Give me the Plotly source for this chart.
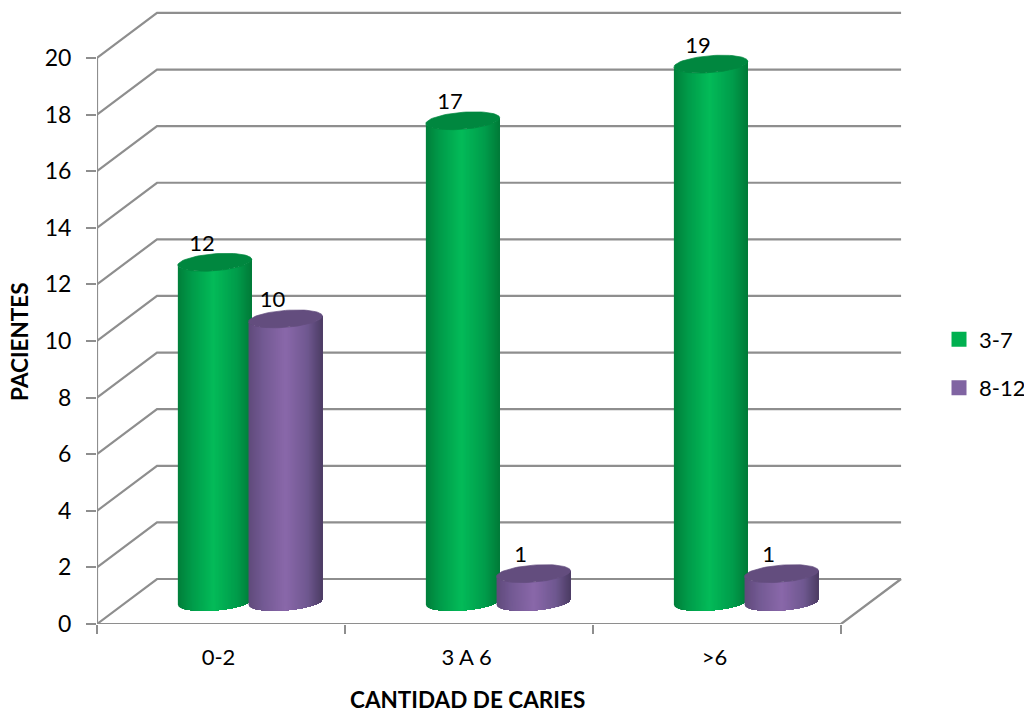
import numpy as np
import plotly.graph_objects as go

# Chart content
categories = ["0-2", "3 A 6", ">6"]
series_names = ["3-7", "8-12"]
values_3_7 = [12, 17, 19]
values_8_12 = [10, 1, 1]
y_ticks = list(range(0, 21, 2))

# Pseudo-3D geometry, in axis units
DEPTH_X = 0.242
DEPTH_Y = 1.59
FLOOR_Y = 0.78
CYL_CENTER = [0.475, 0.76]
CYL_RX = 0.149
CYL_RY = 0.30
CYL_TILT = 0.10
N_STRIPS = 74
XMAX = 3.278
YMAX = 21.87

GRID = "#8e8e8e"
FONT = "Lato, 'Open Sans', sans-serif"
# Side shading stops (left edge, light band, right edge) and the darker lid colour
SHADES = [
    {"stops": [(0.0, "#007f3a"), (0.18, "#009a49"), (0.48, "#04bb59"), (0.8, "#009c4b"), (1.0, "#007a38")],
     "lid": "#00873f", "key": "#00b050"},
    {"stops": [(0.0, "#604a7b"), (0.2, "#735a93"), (0.5, "#8a68aa"), (0.8, "#6f5890"), (1.0, "#4c3c64")],
     "lid": "#634d7e", "key": "#8064a2"},
]


def shade(stops, pos):
    for (p0, c0), (p1, c1) in zip(stops, stops[1:]):
        if pos <= p1:
            f = (pos - p0) / (p1 - p0)
            a = [int(c0[i:i + 2], 16) for i in (1, 3, 5)]
            b = [int(c1[i:i + 2], 16) for i in (1, 3, 5)]
            return "rgb(%d,%d,%d)" % tuple(round(u + (v - u) * f) for u, v in zip(a, b))
    return stops[-1][1]


def add_line(fig, xs, ys):
    fig.add_trace(go.Scatter(x=xs, y=ys, mode="lines", line=dict(color=GRID, width=2.2),
                             hoverinfo="skip", showlegend=False))


def front_arc(u):
    return -CYL_RY * np.sqrt(np.clip(1 - u ** 2, 0, 1)) + CYL_TILT * u


def add_cylinder(fig, cx, value, palette):
    # Each band runs through to the right edge and the next one paints over it, which avoids seams
    edges = np.linspace(-1, 1, N_STRIPS + 1)
    for k in range(N_STRIPS):
        u = edges[k:]
        xs = cx + CYL_RX * u
        arc = front_arc(u)
        px = np.concatenate([xs, xs[::-1], xs[:1]])
        py = np.concatenate([FLOOR_Y + arc, (FLOOR_Y + value + arc)[::-1], [FLOOR_Y + arc[0]]])
        color = shade(palette["stops"], (k + 0.5) / N_STRIPS)
        fig.add_trace(go.Scatter(x=px, y=py, mode="none", fill="toself", fillcolor=color,
                                 hoverinfo="skip", showlegend=False))
    t = np.linspace(0, 2 * np.pi, 73)
    fig.add_trace(go.Scatter(
        x=cx + CYL_RX * np.cos(t),
        y=FLOOR_Y + value + CYL_RY * np.sin(t) + CYL_TILT * np.cos(t),
        mode="lines", fill="toself", fillcolor=palette["lid"],
        line=dict(color=palette["lid"], width=0.7), hoverinfo="skip", showlegend=False))


fig = go.Figure()

# Walls and floor
for v in y_ticks:
    add_line(fig, [0, DEPTH_X, 3 + DEPTH_X], [v, v + DEPTH_Y, v + DEPTH_Y])
add_line(fig, [0, 0], [0, y_ticks[-1]])
add_line(fig, [0, 3, 3 + DEPTH_X], [0, 0, DEPTH_Y])

# Cylinders, the second series painted over the first within each group
for i in range(len(categories)):
    for s, vals in enumerate([values_3_7, values_8_12]):
        add_cylinder(fig, i + CYL_CENTER[s], vals[i], SHADES[s])

# Value labels above each lid
for s, vals in enumerate([values_3_7, values_8_12]):
    fig.add_trace(go.Scatter(
        x=[i + CYL_CENTER[s] - 0.052 for i in range(len(categories))],
        y=[v + FLOOR_Y + 0.6 for v in vals],
        mode="text", text=[str(v) for v in vals],
        textfont=dict(family=FONT, size=22, color="#000000"),
        hoverinfo="skip", showlegend=False))

# Legend keys
for s, name in enumerate(series_names):
    fig.add_trace(go.Scatter(x=[None], y=[None], mode="markers", name=name,
                             legendgroup=name,
                             marker=dict(symbol="square", size=15, color=SHADES[s]["key"])))

fig.update_layout(
    width=1024, height=712,
    margin=dict(l=97, r=114, t=5, b=88, autoexpand=False),
    paper_bgcolor="white", plot_bgcolor="white",
    font=dict(family=FONT, size=23, color="#000000"),
    xaxis=dict(range=[0, XMAX], showgrid=False, zeroline=False, showline=False, automargin=False,
               tickmode="array", tickvals=[0.49, 1.49, 2.49], ticktext=categories, ticks="",
               tickfont=dict(size=22), ticklabelstandoff=18,
               minor=dict(tickmode="array", tickvals=[0, 1, 2, 3], ticks="outside",
                          ticklen=9, tickwidth=2, tickcolor=GRID, showgrid=False)),
    yaxis=dict(range=[0, YMAX], showgrid=False, zeroline=False, showline=False, automargin=False,
               tickmode="array", tickvals=y_ticks, ticks="outside",
               ticklen=10, tickwidth=2, tickcolor=GRID, ticklabelstandoff=10),
    legend=dict(xref="container", yref="container", x=0.917, y=0.489, xanchor="left", yanchor="middle",
                tracegroupgap=17, itemwidth=30, font=dict(family=FONT, size=22),
                bgcolor="rgba(0,0,0,0)"),
    annotations=[
        dict(text="<b>PACIENTES</b>", xref="paper", yref="paper", textangle=-90, showarrow=False,
             x=-0.0945, y=0.456, xanchor="center", yanchor="middle", font=dict(family=FONT, size=22.5)),
        dict(text="<b>CANTIDAD DE CARIES</b>", xref="paper", yref="paper", showarrow=False,
             x=0.456, y=-0.122, xanchor="center", yanchor="middle", font=dict(family=FONT, size=22.5)),
    ],
)

fig.write_html("out.html")
